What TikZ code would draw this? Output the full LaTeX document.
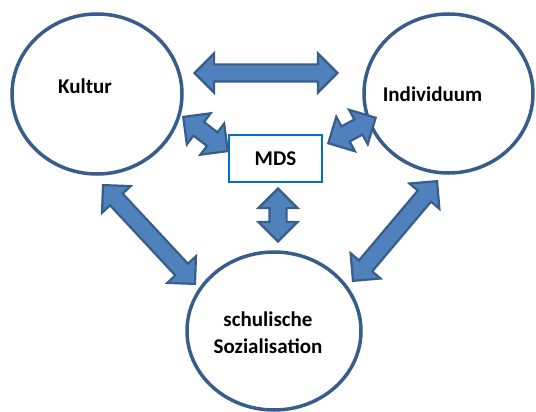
\documentclass[tikz,border=0pt]{standalone}
\usepackage{fontspec}
\setmainfont{Carlito}
\usetikzlibrary{shapes.geometric,shapes.arrows,calc}
\definecolor{rimblue}{RGB}{56,93,138}
\definecolor{fillblue}{RGB}{79,129,189}
\definecolor{boxblue}{RGB}{0,112,192}
\tikzset{
  blob/.style={ellipse, draw=rimblue, line width=3.5pt, inner sep=0pt},
  lbl/.style={font=\bfseries\fontsize{21}{27}\selectfont, align=center},
  linkarrow/.style={double arrow, draw=rimblue, fill=fillblue, line width=2.2pt,
    inner xsep=0pt, inner ysep=7.5pt, double arrow head extend=11pt, minimum width=38pt}
}
\newcommand{\linkarrow}[2]{%
  \path let \p1=(#1), \p2=(#2), \n1={atan2(\y2-\y1,\x2-\x1)}, \n2={veclen(\x2-\x1,\y2-\y1)-3pt} in
    node[linkarrow, minimum height=\n2, rotate=\n1] at ($(\p1)!0.5!(\p2)$) {};}

\begin{document}
\begin{tikzpicture}[x=1pt,y=-1pt]
\useasboundingbox (0,0) rectangle (536,412);

\node[blob, minimum width=170pt, minimum height=160pt] (kultur) at (97,94) {};
\node[blob, minimum width=169pt, minimum height=159pt] (indiv) at (448.5,93.5) {};
\node[blob, minimum width=174pt, minimum height=158pt] (schule) at (274,331) {};
\node[draw=boxblue, line width=1.6pt, minimum width=93pt, minimum height=47pt] (mds) at (275.5,158.5) {};

\node[lbl] (kulturtext) at ($(kultur)+(-12,-8)$) {Kultur};
\node[lbl] (indivtext) at ($(indiv)+(-16,1)$) {Individuum};
\node[lbl] (schuletext) at ($(schule)+(-6,2)$) {schulische\\Sozialisation};
\node[lbl] (mdstext) at (mds) {MDS};

\coordinate (a1) at (193,73);   \coordinate (a2) at (339,73);
\coordinate (b1) at (182,116);  \coordinate (b2) at (229,152);
\coordinate (c1) at (377,117);  \coordinate (c2) at (327,144);
\coordinate (d1) at (278,187);  \coordinate (d2) at (278,243);
\coordinate (e1) at (102,184);  \coordinate (e2) at (196,285);
\coordinate (f1) at (438,180);  \coordinate (f2) at (352,282);

\linkarrow{a1}{a2}
\linkarrow{b1}{b2}
\linkarrow{c1}{c2}
\linkarrow{d1}{d2}
\linkarrow{e1}{e2}
\linkarrow{f1}{f2}

\end{tikzpicture}
\end{document}
